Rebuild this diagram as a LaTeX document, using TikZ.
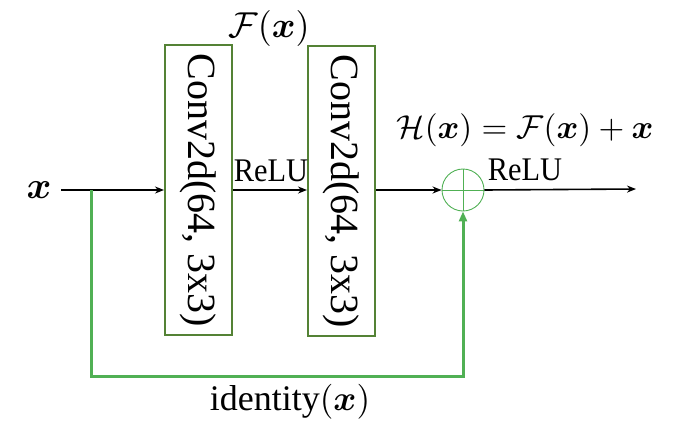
\documentclass[tikz,border=0pt]{standalone}
\usepackage{amsmath}
\usepackage{fontspec}
\setmainfont{Liberation Serif}
\usetikzlibrary{arrows.meta}
\definecolor{boxgreen}{RGB}{84,130,53}
\definecolor{linegreen}{RGB}{80,176,84}
\tikzset{
  convbox/.style={draw=boxgreen, line width=2pt, minimum width=67pt, minimum height=290pt, inner sep=0pt},
  convtext/.style={rotate=-90, font=\fontsize{40}{40}\selectfont},
  blackarrow/.style={draw=black, line width=1.6pt, -{Stealth[length=9pt,width=7pt]}},
  greenline/.style={draw=linegreen, line width=3pt},
  lbl/.style={font=\fontsize{30}{30}\selectfont, inner sep=0pt},
  relulbl/.style={font=\fontsize{33}{33}\selectfont, xscale=0.92, inner sep=0pt},
  mathlbl/.style={font=\normalsize, scale=3.6, inner sep=0pt},
  sumnode/.style={circle, draw=linegreen, line width=0.9pt, minimum size=42pt, inner sep=0pt,
    path picture={\draw[linegreen, line width=0.9pt] (path picture bounding box.north) -- (path picture bounding box.south)
      (path picture bounding box.west) -- (path picture bounding box.east);}}
}
\begin{document}
\begin{tikzpicture}[x=1pt,y=-1pt]
\useasboundingbox (0,0) rectangle (674,434);
\node[mathlbl, scale=1.05] (xin) at (39,190) {$\boldsymbol{x}$};
\node[convbox] (b1) at (198.5,190) {};
\node[convtext] (t1) at (b1.center) {Conv2d(64, 3x3)};
\node[convbox] (b2) at (341.5,191) {};
\node[convtext] (t2) at (b2.center) {Conv2d(64, 3x3)};
\node[sumnode] (sum) at (463,190) {};
\coordinate (out) at (636,189);
\coordinate (br) at (91,190);
\coordinate (bl) at (91,376);
\coordinate (brr) at (463,376);
\draw[blackarrow] (61,190) -- (b1.west |- 0,190);
\draw[blackarrow] (b1.east |- 0,190) -- (b2.west |- 0,190);
\draw[blackarrow] (b2.east |- 0,190) -- (sum.west);
\draw[blackarrow] (sum.east) -- (out);
\draw[greenline, -{Triangle[length=10pt,width=8pt]}] (br) -- (bl) -- (brr) -- (sum.south);
\node[mathlbl] (fx) at (269,28) {$\mathcal{F}(\boldsymbol{x})$};
\node[relulbl] (r1) at (271,171) {ReLU};
\node[mathlbl, scale=0.92] (hx) at (525,130) {$\mathcal{H}(\boldsymbol{x}) = \mathcal{F}(\boldsymbol{x}) + \boldsymbol{x}$};
\node[relulbl] (r2) at (525,170) {ReLU};
\node[lbl, font=\fontsize{36}{36}\selectfont] (id) at (290,402) {identity\scalebox{3.5}{\normalsize$(\boldsymbol{x})$}};
\end{tikzpicture}
\end{document}
